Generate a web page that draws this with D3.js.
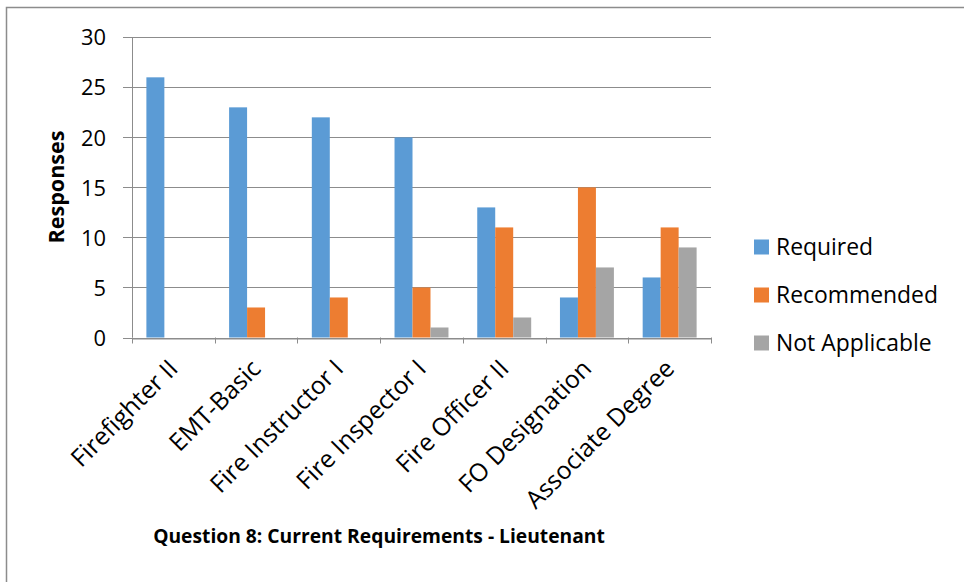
<!DOCTYPE html>
<html><head><meta charset="utf-8">
<script src="https://cdn.jsdelivr.net/npm/d3@7"></script>
<style>body{margin:0;background:#fff}svg{display:block}text{font-family:"Open Sans",Lato,sans-serif;fill:#000}</style>
</head><body><svg id="c" width="964" height="582"></svg>
<script>
const categories = ["Firefighter II","EMT-Basic","Fire Instructor I","Fire Inspector I","Fire Officer II","FO Designation","Associate Degree"];
const seriesNames = ["Required","Recommended","Not Applicable"];
const required = [26,23,22,20,13,4,6];
const recommended = [0,3,4,5,11,15,11];
const notApplicable = [0,0,0,1,2,7,9];
const yTicks = [0,5,10,15,20,25,30];
const colors = ["#5B9BD5","#ED7D31","#A5A5A5"];
const series = [required, recommended, notApplicable];

const svg = d3.select("#c");
function fit(sel, target){
  sel.each(function(){
    const fs = parseFloat(getComputedStyle(this).fontSize);
    const w = this.getComputedTextLength();
    d3.select(this).style("font-size",(fs*target/w).toFixed(2)+"px");
  });
}

svg.append("rect").attr("x",6.5).attr("y",7.5).attr("width",1000).attr("height",1000)
  .attr("fill","none").attr("stroke","#8c8c8c").attr("stroke-width",1.5);

const L=132, R=711, T=37.3, B=337.5;
const x = d3.scaleBand().domain(categories).range([L,R]).paddingInner(0).paddingOuter(0);
const x1 = d3.scaleBand().domain(seriesNames).range([0,x.bandwidth()]).paddingOuter(0.8).paddingInner(0);
const y = d3.scaleLinear().domain([0,30]).range([B,T]);

svg.append("g").selectAll("line").data(yTicks).join("line")
  .attr("x1",123).attr("x2",R).attr("y1",d=>Math.round(y(d))+0.5).attr("y2",d=>Math.round(y(d))+0.5)
  .attr("stroke","#8c8c8c").attr("stroke-width",1);

svg.append("line").attr("x1",L+0.5).attr("x2",L+0.5).attr("y1",T).attr("y2",B).attr("stroke","#8c8c8c");

series.forEach((vals,si)=>{
  svg.append("g").selectAll("rect").data(vals.map((v,i)=>({v,c:categories[i]}))).join("rect")
    .attr("x",d=>x(d.c)+x1(seriesNames[si])).attr("width",x1.bandwidth())
    .attr("y",d=>y(d.v)).attr("height",d=>y(0)-y(d.v)).attr("fill",colors[si]);
});

const xAxis = d3.axisBottom(x).tickSize(0).tickFormat("");
const gx = svg.append("g").attr("transform",`translate(0,${Math.round(B)+0.5})`).call(xAxis);
gx.select(".domain").attr("stroke","#8c8c8c");
const tickPos = categories.map(c=>x(c)).concat([R]);
svg.append("g").selectAll("line").data(tickPos).join("line")
  .attr("x1",d=>Math.round(d)+0.5).attr("x2",d=>Math.round(d)+0.5).attr("y1",B).attr("y2",B+6)
  .attr("stroke","#8c8c8c");

const xl = svg.append("g").selectAll("text").data(categories).join("text")
  .attr("transform",d=>`translate(${x(d)+x.bandwidth()/2},${364}) rotate(-45)`)
  .attr("text-anchor","end").attr("dy","0.35em").style("font-size","20px").text(d=>d);
{
  const n = xl.nodes()[0];
  const s = (139/n.getComputedTextLength()*20).toFixed(2);
  xl.style("font-size",s+"px");
}

const yAxis = d3.axisLeft(y).tickValues(yTicks).tickSize(0);
const gy = svg.append("g").attr("transform",`translate(${L},0)`).call(yAxis);
gy.select(".domain").remove();
gy.selectAll("text").attr("x",-26).attr("dy","0.35em").style("font-size","20px").style("font-family","'Open Sans',sans-serif").attr("fill","#000");
{
  const n = gy.selectAll("text").filter(d=>d===30).node();
  const s = (25/n.getComputedTextLength()*20).toFixed(2);
  gy.selectAll("text").style("font-size",s+"px");
}

const yt = svg.append("text").attr("transform",`translate(64,187) rotate(-90)`).attr("text-anchor","middle")
  .style("font-size","20px").style("font-weight","bold").text("Responses");
fit(yt,113);

const tt = svg.append("text").attr("x",379).attr("y",543).attr("text-anchor","middle")
  .style("font-size","20px").style("font-weight","bold").text("Question 8: Current Requirements - Lieutenant");
fit(tt,452);

const lg = svg.append("g").selectAll("g").data(seriesNames).join("g")
  .attr("transform",(d,i)=>`translate(754,${247+i*48})`);
lg.append("rect").attr("x",0).attr("y",-7.5).attr("width",15).attr("height",15).attr("fill",(d,i)=>colors[i]);
const lt = lg.append("text").attr("x",22).attr("dy","0.35em").style("font-size","20px").text(d=>d);
{
  const n = lt.nodes()[1];
  const s = (162/n.getComputedTextLength()*20).toFixed(2);
  lt.style("font-size",s+"px");
}
</script></body></html>
